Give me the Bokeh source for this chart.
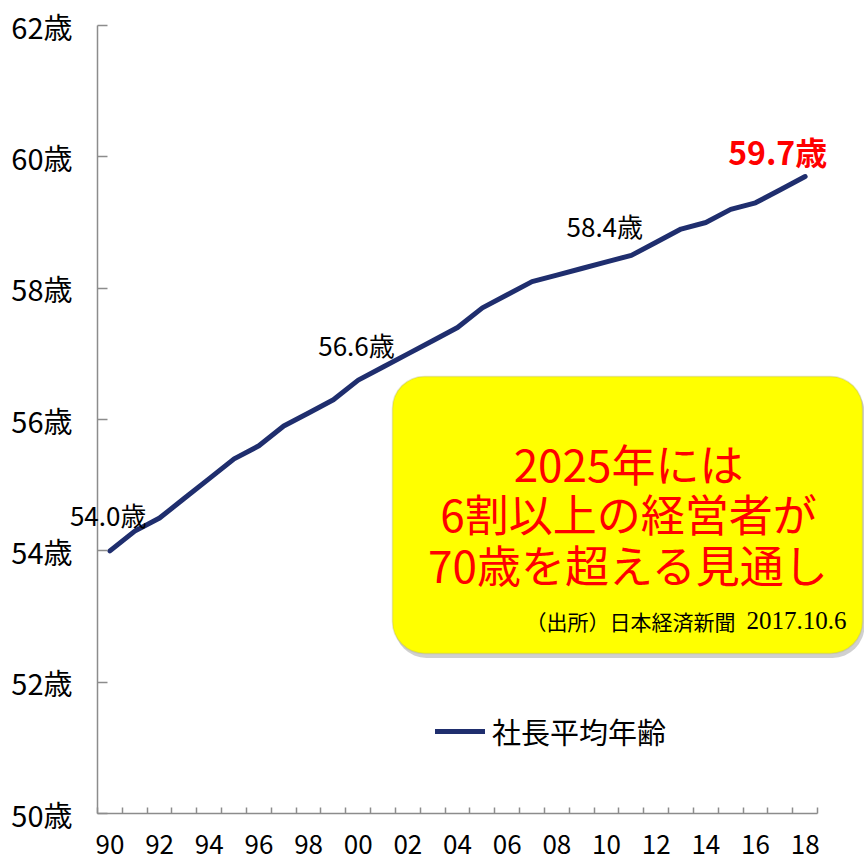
from bokeh.plotting import figure
from bokeh.models import (FixedTicker, CustomJSTickFormatter, Label, BoxAnnotation,
                          Legend, LegendItem, Range1d)
from bokeh.embed import file_html
from bokeh.resources import INLINE

# ---- data ----
years = list(range(1990, 2019))
ages = [54.0, 54.3, 54.5, 54.8, 55.1, 55.4, 55.6, 55.9, 56.1, 56.3,
        56.6, 56.8, 57.0, 57.2, 57.4, 57.7, 57.9, 58.1, 58.2, 58.3,
        58.4, 58.5, 58.7, 58.9, 59.0, 59.2, 59.3, 59.5, 59.7]
x_tick_years = list(range(1990, 2019, 2))
y_ticks = [50, 52, 54, 56, 58, 60, 62]
highlight_years = [1990, 2000, 2010]
final_year = 2018
series_name = "社長平均年齢"
box_lines = ["2025年には", "6割以上の経営者が", "70歳を超える見通し"]
source_text = "（出所）日本経済新聞"
source_date = "2017.10.6"

JP = "Noto Sans CJK JP"
NAVY = "#1F2E6E"
AXIS_GRAY = "#8c8c8c"

x0, x1 = years[0] - 0.5, years[-1] + 0.5

p = figure(width=864, height=864,
           x_range=Range1d(1985.593, 2020.39), y_range=Range1d(49.2234, 62.381),
           output_backend="svg", toolbar_location=None,
           min_border_left=0, min_border_right=0,
           min_border_top=0, min_border_bottom=0)
p.outline_line_color = None
p.xgrid.visible = False
p.ygrid.visible = False
p.background_fill_color = "white"
p.border_fill_color = "white"

# x axis
xa = p.xaxis[0]
xa.fixed_location = y_ticks[0]
xa.ticker = FixedTicker(ticks=x_tick_years,
                        minor_ticks=[y - 0.5 for y in years] + [x1])
xa.formatter = CustomJSTickFormatter(code="return String(tick % 100).padStart(2, '0');")
xa.bounds = (x0, x1)
xa.major_tick_in = 0
xa.major_tick_out = 0
xa.minor_tick_in = 6
xa.minor_tick_out = 0
xa.axis_line_color = AXIS_GRAY
xa.axis_line_width = 1.5
xa.minor_tick_line_color = AXIS_GRAY
xa.minor_tick_line_width = 1.5
xa.major_label_standoff = 21
xa.major_label_text_font = JP
xa.major_label_text_font_size = "26px"
xa.major_label_text_color = "black"

# y axis
ya = p.yaxis[0]
ya.fixed_location = x0
ya.bounds = (y_ticks[0], y_ticks[-1])
ya.ticker = FixedTicker(ticks=y_ticks)
ya.formatter = CustomJSTickFormatter(code="return tick.toFixed(0) + '歳';")
ya.major_tick_in = 10
ya.major_tick_out = 0
ya.minor_tick_line_color = None
ya.axis_line_color = AXIS_GRAY
ya.axis_line_width = 1.5
ya.major_tick_line_color = AXIS_GRAY
ya.major_tick_line_width = 1.5
ya.major_label_standoff = 25
ya.major_label_text_font = JP
ya.major_label_text_font_size = "29px"
ya.major_label_text_color = "black"

# callout box (shadow + box)
shadow = BoxAnnotation(left=2001.46, right=2020.39, top=56.594, bottom=52.37,
                       fill_color="#8a8a8a", fill_alpha=0.4, line_color=None,
                       border_radius=32)
box = BoxAnnotation(left=2001.38, right=2020.31, top=56.655, bottom=52.437,
                    fill_color="#FFFF00", fill_alpha=1.0, line_color="#a8a870",
                    line_width=1.5, border_radius=32)
p.add_layout(shadow)
p.add_layout(box)

# line
r = p.line(years, ages, line_width=5, color=NAVY, line_join="round", line_cap="round")

# value labels
for yr in highlight_years:
    v = ages[years.index(yr)]
    p.add_layout(Label(x=yr, y=v, text=f"{v:.1f}歳", x_offset=-40, y_offset=36,
                       text_align="left", text_baseline="middle",
                       text_font=JP, text_font_size="26px", text_color="black"))
vf = ages[years.index(final_year)]
p.add_layout(Label(x=final_year, y=vf, text=f"{vf:.1f}歳", x_offset=-77, y_offset=26,
                   text_align="left", text_baseline="middle",
                   text_font=JP, text_font_size="32px", text_font_style="bold",
                   text_color="#FF0000"))

# box text
for line_text, yv in zip(box_lines, [55.345, 54.569, 53.807]):
    p.add_layout(Label(x=2010.887, y=yv, text=line_text, text_align="center",
                       text_baseline="middle", text_font=JP, text_font_size="44px",
                       text_color="#FF0000"))
p.add_layout(Label(x=2015.197, y=52.939, text=source_text, text_align="right",
                   text_baseline="middle", text_font=JP, text_font_size="21px",
                   text_color="black"))
p.add_layout(Label(x=2019.67, y=52.939, text=source_date, text_align="right",
                   text_baseline="middle", text_font="Liberation Serif",
                   text_font_size="25px", text_color="black"))

# legend
legend = Legend(items=[LegendItem(label=series_name, renderers=[r])],
                location=(435, 112), glyph_width=50, glyph_height=30,
                label_height=30, label_standoff=7, padding=0, margin=0, spacing=0,
                label_text_font=JP, label_text_font_size="29px",
                label_text_color="black",
                background_fill_alpha=0, border_line_alpha=0)
p.add_layout(legend)

with open("out.html", "w", encoding="utf-8") as f:
    f.write(file_html(p, INLINE))
